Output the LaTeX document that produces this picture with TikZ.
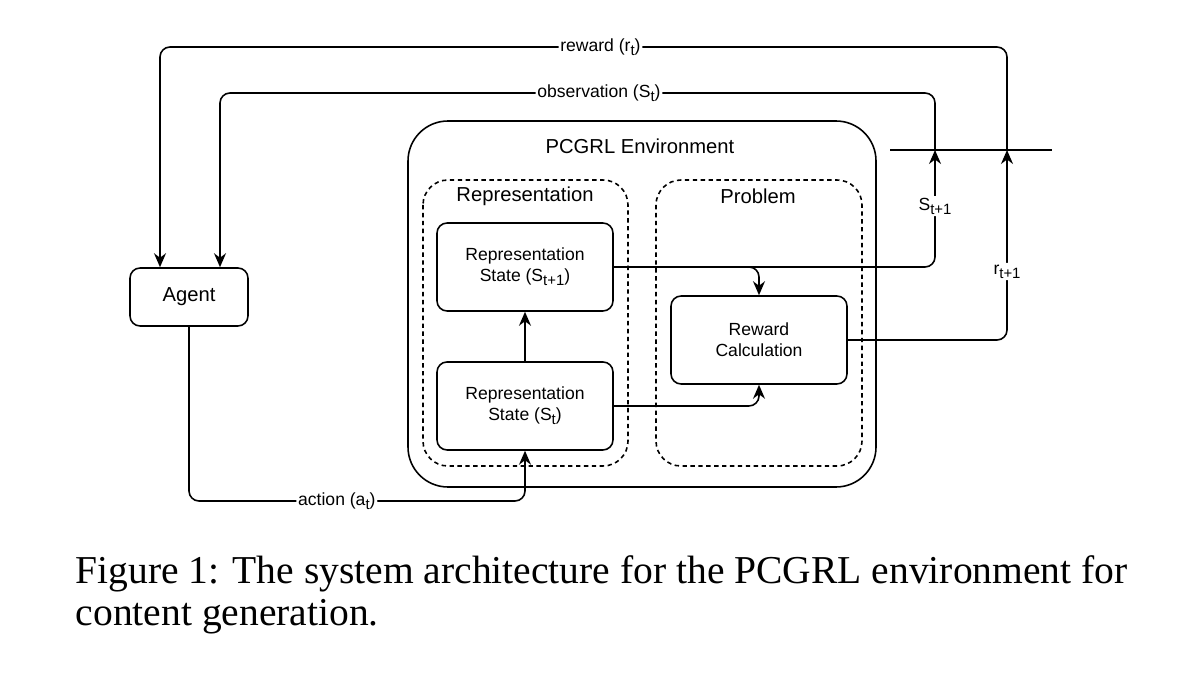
\documentclass[tikz,border=0pt]{standalone}
\usepackage{fontspec}
\setmainfont{Liberation Serif}
\setsansfont{Liberation Sans}
\usetikzlibrary{arrows.meta,positioning}
\newcommand\lowsub[1]{\raisebox{-0.45ex}{\fontsize{8.5}{10}\selectfont #1}}

\begin{document}
\begin{tikzpicture}[x=0.02cm, y=-0.02cm, line width=0.9pt,
    >={Stealth[length=2.8mm,width=2.4mm]},
    font=\sffamily\fontsize{10}{12}\selectfont,
    box/.style={draw, rounded corners=0.2cm, minimum width=3.52cm, minimum height=1.76cm, align=center},
    group/.style={draw, dash pattern=on 2.5pt off 2pt, rounded corners=0.5cm},
    title/.style={font=\sffamily\fontsize{11.5}{13}\selectfont},
    lab/.style={fill=white, inner sep=1pt}]
\useasboundingbox (0,0) rectangle (1200,675);

% environment and its two parts
\draw[rounded corners=0.8cm] (408,121) rectangle (876,487);
\node[title] (env) at (640,146) {PCGRL Environment};
\draw[group] (423,180) rectangle (628,466);
\draw[group] (656,180) rectangle (862,466);
\node[title] (rep) at (525,196) {Representation};
\node[title] (prob) at (758,196) {Problem};

\node[box] (s_1) at (525,267) {Representation\\State (S\lowsub{t+1})};
\node[box, node distance=2.78cm] (s_0) [below of = s_1] {Representation\\State (S\lowsub{t})};
\node[box] (rc) at (759,340) {Reward\\Calculation};
\node[box, title, minimum width=2.36cm, minimum height=1.16cm] (agent) at (189,297) {Agent};

\coordinate (s_in) at (935,150);
\coordinate (r_in) at (1007,150);
\coordinate (bar_l) at (890,150);
\coordinate (bar_r) at (1052,150);
\coordinate (act) at (525,501);
\draw (bar_l) -- (bar_r);

\draw[->, rounded corners=0.2cm] (s_0) -- (s_1);
\draw[->, rounded corners=0.2cm] (s_1.east) -| (rc.north);
\draw[->, rounded corners=0.2cm] (s_0.east) -| (rc.south);
\draw[->, rounded corners=0.2cm] (s_1.east) -| node[lab, pos=0.76] {S\lowsub{t+1}} (s_in);
\draw[->, rounded corners=0.2cm] (rc.east) -| node[lab, pos=0.68] {r\lowsub{t+1}} (r_in);
\draw[->, rounded corners=0.2cm] (r_in) -- (1007,47) -- node[lab, pos=0.48] {reward (r\lowsub{t})} (160,47) -- (agent.north -| 160,0);
\draw[->, rounded corners=0.2cm] (s_in) -- (935,93) -- node[lab, pos=0.47] {observation (S\lowsub{t})} (220,93) -- (agent.north -| 220,0);
\draw[->, rounded corners=0.2cm] (agent.south) |- node[lab, pos=0.72] {action (a\lowsub{t})} (act) -- (s_0.south);

% caption
\node[anchor=north west, align=left, inner sep=0, font=\rmfamily\fontsize{22.5}{21.6}\selectfont] (cap) at (75,555)
    {Figure 1: The system architecture for the PCGRL environment for\\[2.2pt]content generation.};
\end{tikzpicture}
\end{document}
